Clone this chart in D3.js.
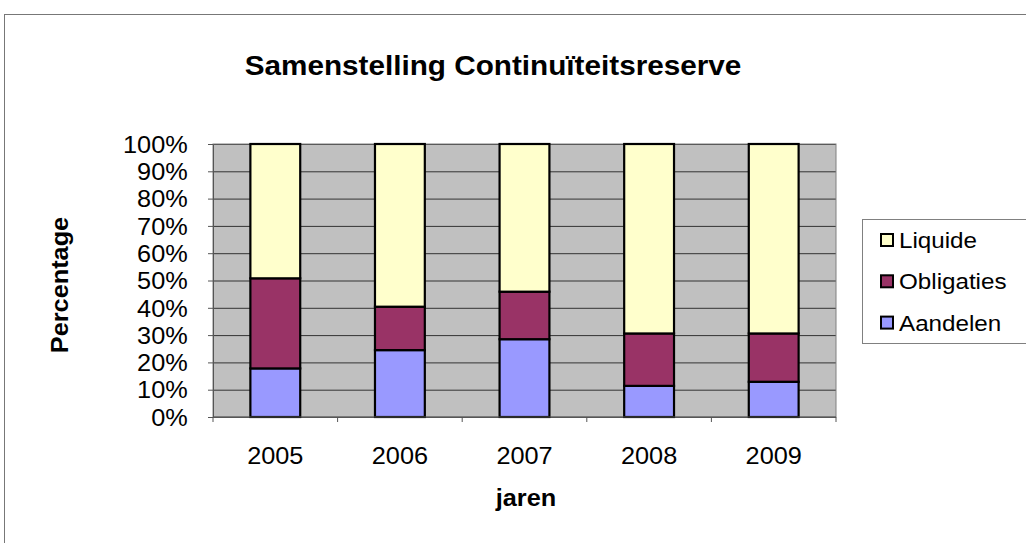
<!DOCTYPE html>
<html>
<head>
<meta charset="utf-8">
<script src="https://cdnjs.cloudflare.com/ajax/libs/d3/7.8.5/d3.min.js"></script>
<style>
	body{margin:0;background:#fff;}
	svg{display:block;font-family:"Liberation Sans",Arial,sans-serif;}
	.grid line{stroke:#333;stroke-width:1;}
	.grid path{display:none;}
	.axis path,.axis line{stroke:#555;}
</style>
</head>
<body>
<svg width="1026" height="543"></svg>
<script>

/* ----------------------------------------------------------
data
---------------------------------------------------------- */
var years = ["2005","2006","2007","2008","2009"];
var aandelen = [17.8, 24.5, 28.5, 11.4, 12.9];
var obligaties = [33.0, 15.9, 17.4, 19.2, 17.7];
var liquide = [49.2, 59.6, 54.1, 69.4, 69.4];
var seriesNames = ["Aandelen","Obligaties","Liquide"];
var yTicks = [0,0.1,0.2,0.3,0.4,0.5,0.6,0.7,0.8,0.9,1];

var color = {Aandelen:"#9999ff", Obligaties:"#993366", Liquide:"#ffffcc"};

var rows = years.map(function(y,i){
	return {year:y, Aandelen:aandelen[i], Obligaties:obligaties[i], Liquide:liquide[i]};
});

/* ----------------------------------------------------------
setting
---------------------------------------------------------- */
var svg = d3.select("svg");
var SX = 1.1; // text in the source is drawn a bit wider
var plot = {x:213, y:144, w:623, h:273};

// frame
svg.append("rect").attr("x",4.5).attr("y",14.5).attr("width",1040).attr("height",560)
	.attr("fill","#fff").attr("stroke","#777");

// title
svg.append("g").attr("transform","translate(493,75)")
	.append("text").attr("transform","scale("+SX+",1)")
	.attr("text-anchor","middle").style("font-size","27px").style("font-weight","bold")
	.text("Samenstelling Continuïteitsreserve");

var x = d3.scaleBand().domain(years).range([0, plot.w]).paddingInner(0.6).paddingOuter(0.3);
var y = d3.scaleLinear().domain([0,1]).range([plot.h, 0]);

var g = svg.append("g").attr("transform","translate("+plot.x+","+plot.y+")");

g.append("rect").attr("width",plot.w).attr("height",plot.h).attr("fill","#c0c0c0");

g.append("g").attr("class","grid")
	.call(d3.axisLeft(y).tickValues(yTicks).tickSize(-plot.w).tickFormat(""));

g.append("rect").attr("width",plot.w).attr("height",plot.h)
	.attr("fill","none").attr("stroke","#808080");

//bars
var stack = d3.stack().keys(seriesNames).offset(d3.stackOffsetExpand);
var layers = stack(rows);

g.selectAll(".layer").data(layers).enter().append("g")
	.attr("class","layer")
	.attr("fill",function(d){ return color[d.key]; })
	.selectAll("rect").data(function(d){ return d; }).enter().append("rect")
	.attr("x",function(d){ return x(d.data.year); })
	.attr("y",function(d){ return y(d[1]); })
	.attr("width",x.bandwidth())
	.attr("height",function(d){ return y(d[0]) - y(d[1]); })
	.attr("stroke","#000").attr("stroke-width",2.2);

//axis
var yAxis = g.append("g").attr("class","axis")
	.call(d3.axisLeft(y).tickValues(yTicks).tickSize(5).tickSizeOuter(0).tickFormat(d3.format(".0%")));
yAxis.selectAll("text")
	.attr("x",-23).attr("dy","0.36em")
	.attr("transform","scale("+SX+",1)")
	.style("font-size","23px").attr("fill","#000").style("font-family",null);

var bounds = d3.range(years.length + 1).map(function(i){ return i * x.step(); });
var xAxis = g.append("g").attr("class","axis").attr("transform","translate(0,"+plot.h+")");
xAxis.append("path").attr("d","M0,0H"+plot.w);
xAxis.selectAll(".tk").data(bounds).enter().append("line")
	.attr("x1",function(d){ return d; }).attr("x2",function(d){ return d; })
	.attr("y1",0).attr("y2",5);
xAxis.selectAll(".lb").data(years).enter().append("g")
	.attr("transform",function(d){ return "translate("+(x(d)+x.bandwidth()/2)+",47)"; })
	.append("text").attr("transform","scale("+SX+",1)")
	.attr("text-anchor","middle").style("font-size","23px").text(function(d){ return d; });

// axis titles
svg.append("g").attr("transform","translate(526,506)")
	.append("text").attr("transform","scale("+SX+",1)")
	.attr("text-anchor","middle").style("font-size","23px").style("font-weight","bold").text("jaren");
svg.append("g").attr("transform","translate(68,285) rotate(-90)")
	.append("text").attr("transform","scale("+SX+",1)")
	.attr("text-anchor","middle").style("font-size","23px").style("font-weight","bold").text("Percentage");

//legend
svg.append("rect").attr("x",862.5).attr("y",219.5).attr("width",200).attr("height",124)
	.attr("fill","#fff").attr("stroke","#808080");
var legendVals = seriesNames.slice().reverse();
var legs = svg.selectAll(".legends").data(legendVals).enter().append("g")
	.attr("class","legends")
	.attr("transform",function(d,i){ return "translate(880,"+(240 + i*41.3)+")"; });
legs.append("rect").attr("x",1).attr("y",-6).attr("width",12).attr("height",12)
	.attr("fill",function(d){ return color[d]; }).attr("stroke","#000").attr("stroke-width",2);
legs.append("g").attr("transform","translate(19,0)")
	.append("text").attr("transform","scale("+SX+",1)")
	.attr("dy","0.36em").style("font-size","22px").text(function(d){ return d; });

</script>
</body>
</html>
